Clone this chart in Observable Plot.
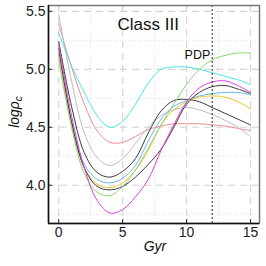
<!DOCTYPE html>
<html><head><meta charset="utf-8">
<script src="https://cdn.jsdelivr.net/npm/d3@7"></script>
<script src="https://cdn.jsdelivr.net/npm/@observablehq/plot@0.6"></script>
<style>body{margin:0;background:#fff} #chart{width:266px;height:266px}</style>
</head><body><div id="chart"></div>
<script>
const gyr = [0,1,2,3,4,5,6,7,8,9,10,11,12,13,14,15];
const cyanS    = [5.31,5.03,4.80,4.60,4.50,4.55,4.70,4.88,5.00,5.02,5.02,5.00,4.97,4.94,4.91,4.87];
const pinkS    = [5.39,5.02,4.70,4.47,4.37,4.37,4.42,4.48,4.51,4.53,4.53,4.53,4.52,4.51,4.49,4.47];
const grayS    = [5.47,4.90,4.45,4.24,4.17,4.23,4.36,4.50,4.60,4.65,4.67,4.65,4.61,4.56,4.50,4.42];
const black1S  = [5.24,4.68,4.28,4.11,4.07,4.12,4.23,4.45,4.64,4.73,4.74,4.72,4.67,4.62,4.57,4.52];
const blueS    = [5.15,4.55,4.18,4.05,4.02,4.06,4.17,4.38,4.57,4.68,4.73,4.77,4.79,4.80,4.80,4.78];
const yellowS  = [5.13,4.52,4.15,4.01,3.98,4.02,4.13,4.30,4.52,4.65,4.72,4.76,4.77,4.76,4.72,4.66];
const black2S  = [5.18,4.55,4.15,3.99,3.96,3.99,4.07,4.18,4.31,4.50,4.70,4.80,4.85,4.86,4.83,4.79];
const greenS   = [5.08,4.50,4.10,3.94,3.91,3.99,4.13,4.32,4.52,4.70,4.87,5.00,5.08,5.12,5.14,5.14];
const magentaS = [5.21,4.60,4.15,3.87,3.76,3.79,3.90,4.05,4.30,4.52,4.72,4.84,4.89,4.90,4.86,4.80];

const seriesNames  = ["pink","gray","cyan","black1","blue","yellow","black2","green","magenta"];
const seriesValues = [pinkS,grayS,cyanS,black1S,blueS,yellowS,black2S,greenS,magentaS];
const seriesColors = ["#f08a96","#bdbdbd","#4fe3ec","#3a3a3a","#66b8f5","#f2c42a","#3a3a3a","#86d870","#e03ee0"];

const xDomain = [-0.8, 15.7];
const yDomain = [3.67, 5.55];
const xTicks = [0,5,10,15];
const yTicks = [4.0,4.5,5.0,5.5];
const xMinor = [2.5,7.5,12.5];
const yMinor = [3.75,4.25,4.75,5.25];
const pdpAge = 12;
const titleText = "Class III";
const pdpText = "PDP";
const xLabel = "Gyr";

const rows = [];
seriesNames.forEach((n,i)=>gyr.forEach((g,j)=>rows.push({name:n, gyr:g, v:seriesValues[i][j]})));

const plot = Plot.plot({
  width:266, height:266,
  marginLeft:48, marginTop:5, marginRight:7, marginBottom:43,
  style:{fontFamily:"'Liberation Sans', Arial, sans-serif", fontSize:"13px", color:"#222", background:"#fff"},
  x:{domain:xDomain},
  y:{domain:yDomain},
  color:{domain:seriesNames, range:seriesColors},
  marks:[
    Plot.gridX(xMinor,{stroke:"#bbb", strokeOpacity:0.5, strokeDasharray:"1,2"}),
    Plot.gridY(yMinor,{stroke:"#bbb", strokeOpacity:0.5, strokeDasharray:"1,2"}),
    Plot.gridX(xTicks,{stroke:"#d4d4d4", strokeOpacity:1, strokeDasharray:"7,5", strokeWidth:1.2}),
    Plot.gridY(yTicks,{stroke:"#d4d4d4", strokeOpacity:1, strokeDasharray:"7,5", strokeWidth:1.2}),
    Plot.line(rows,{x:"gyr", y:"v", z:"name", stroke:"name", curve:"catmull-rom", strokeWidth:1}),
    Plot.ruleX([pdpAge],{stroke:"#222", strokeDasharray:"2,2", strokeWidth:1}),
    Plot.text([titleText],{x:[7.0], y:[5.39], fontSize:17, fill:"#111", lineAnchor:"middle"}),
    Plot.text([pdpText],{x:[11.85], y:[5.12], fontSize:12.5, fill:"#111", textAnchor:"end", lineAnchor:"middle"}),
    Plot.frame({stroke:"#777", strokeWidth:1.5}),
    Plot.ruleX([xDomain[0]],{stroke:"#111", strokeWidth:1.5}),
    Plot.ruleY([yDomain[0]],{stroke:"#111", strokeWidth:1.5}),
    Plot.axisX(xTicks,{tickSize:-4, tickPadding:8, label:null, fontSize:14, color:"#222"}),
    Plot.axisY(yTicks,{tickSize:-4, tickPadding:7, label:null, fontSize:14, color:"#222", tickFormat:d=>d.toFixed(1)}),
    Plot.text([xLabel],{frameAnchor:"bottom", dy:27, dx:1, fontSize:14, fontStyle:"italic", fill:"#111"})
  ]
});
document.getElementById("chart").appendChild(plot);

const svg = d3.select(plot);
const yl = svg.append("text")
  .attr("transform","translate(19,112) rotate(-90)")
  .attr("text-anchor","middle")
  .attr("font-family","'Liberation Sans', Arial, sans-serif")
  .attr("font-style","italic")
  .attr("font-size",14)
  .attr("fill","#111");
yl.append("tspan").text("logρ");
yl.append("tspan").attr("dy",3).attr("font-size",10).text("c");
</script>
</body></html>
